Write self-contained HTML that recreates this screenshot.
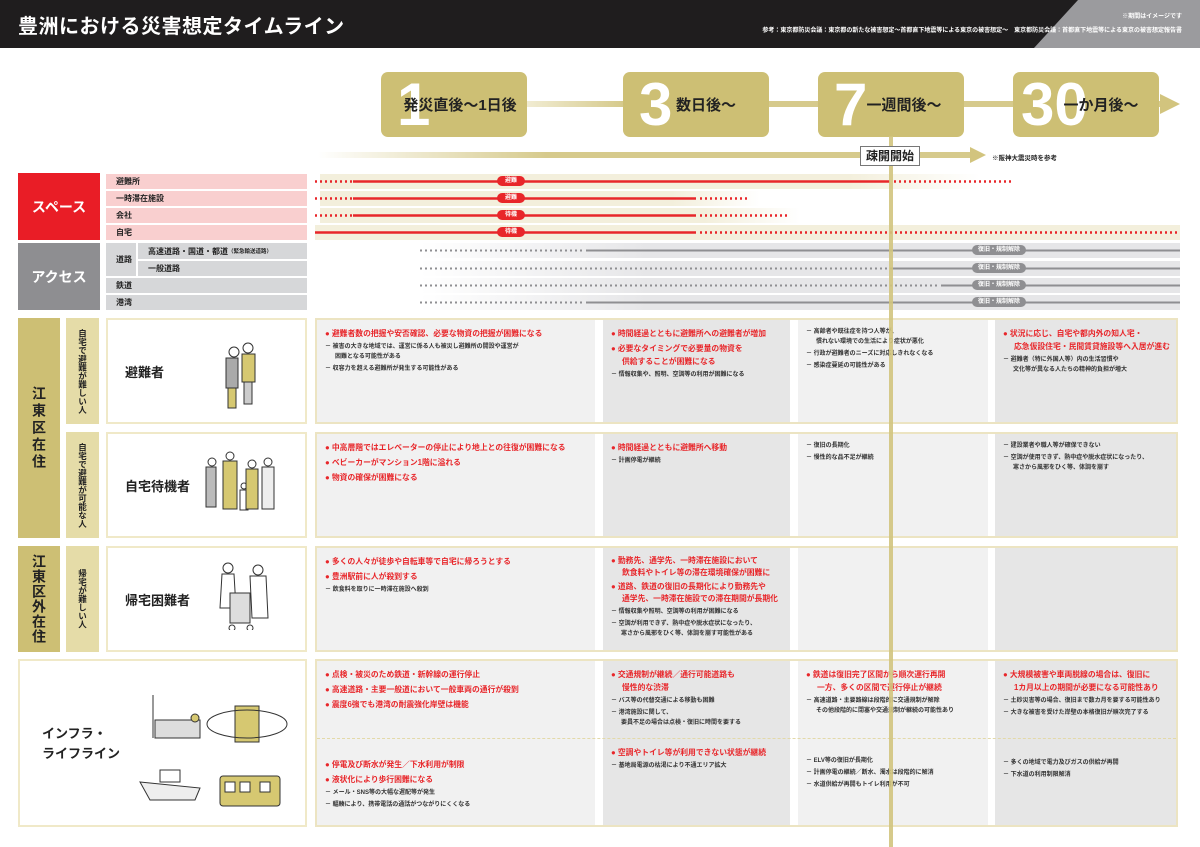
<!DOCTYPE html>
<html><head><meta charset="utf-8"><style>
*{margin:0;padding:0;box-sizing:border-box}
body{width:1200px;height:847px;position:relative;background:#fff;font-family:"Liberation Sans","Noto Sans CJK JP",sans-serif;overflow:hidden;color:#222}
.a{position:absolute}
.hdr{left:0;top:0;width:1200px;height:48px;background:#1f1d1e}
.tl{background:#cdbf74;border-radius:7px;height:65px;top:72px;width:146px}
.tl .n{position:absolute;left:16px;top:0px;font-size:60px;font-weight:bold;color:#fff;line-height:66px;font-family:"Liberation Sans",sans-serif}
.tl .t{position:absolute;left:12px;right:0;top:22px;font-size:15px;font-weight:bold;color:#222;text-align:center;white-space:nowrap}
.lab{font-size:8px;font-weight:bold;padding-left:10px;display:flex;align-items:center;height:15px}
.pk{background:#f9cfcf}.gy{background:#d6d7d9}
.pill{font-size:6px;color:#fff;font-weight:bold;border-radius:6px;text-align:center;line-height:10px;height:10px}
.cell{padding:7px 8px;}
.c1{background:#f1f1f1}.c2{background:#e6e6e6}
.r{color:#e8262a;font-size:7.8px;font-weight:bold;line-height:13px;margin-bottom:2px;padding-left:11px;text-indent:-11px;white-space:nowrap}
.b{color:#333;font-size:6px;font-weight:bold;line-height:10px;margin-bottom:2px;padding-left:10px;text-indent:-10px;white-space:nowrap}
.vt{writing-mode:vertical-rl;font-weight:bold;display:flex;align-items:center;justify-content:center}
.nm{background:#fff;border:2px solid #f0e9c8;font-size:13px;font-weight:bold}
</style></head><body>
<div class="a hdr"></div>
<svg class="a" style="left:0;top:0" width="1200" height="48"><polygon points="1078,0 1200,0 1200,48 1034,48" fill="#9b9b9e"/></svg>
<div class="a" style="left:18px;top:10px;color:#fff;font-size:20px;font-weight:bold;letter-spacing:0.5px">豊洲における災害想定タイムライン</div>
<div class="a" style="right:18px;top:11px;color:#fff;font-size:6px;font-weight:bold">※期間はイメージです</div>
<div class="a" style="right:18px;top:25px;color:#fff;font-size:6px;font-weight:bold;white-space:nowrap">参考：東京都防災会議：東京都の新たな被害想定～首都直下地震等による東京の被害想定～　東京都防災会議：首都直下地震等による東京の被害想定報告書</div>

<div class="a" style="left:527px;top:101px;width:640px;height:6px;background:linear-gradient(90deg,#f1ecd2,#d6ca8c 15%,#d6ca8c)"></div>
<svg class="a" style="left:1160px;top:94px" width="22" height="20"><polygon points="0,0 20,10 0,20" fill="#d2c47e"/></svg>
<div class="a" style="left:318px;top:152px;width:655px;height:6px;background:linear-gradient(90deg,#fff,#d6ca8c 35%,#d6ca8c)"></div>
<svg class="a" style="left:970px;top:147px" width="18" height="16"><polygon points="0,0 16,8 0,16" fill="#d2c47e"/></svg>
<div class="a" style="left:992px;top:152px;font-size:6.5px;font-weight:bold">※阪神大震災時を参考</div>
<div class="a" style="left:889px;top:136px;width:4px;height:711px;background:#d2c47e;opacity:.9;z-index:5"></div>
<div class="a" style="left:860px;top:146px;width:60px;height:20px;background:#fff;border:1px solid #777;font-size:12px;font-weight:bold;text-align:center;line-height:18px;z-index:6">疎開開始</div>

<div class="a tl" style="left:381px"><span class="n">1</span><span class="t">発災直後～1日後</span></div>
<div class="a tl" style="left:623px"><span class="n">3</span><span class="t" style="left:20px">数日後～</span></div>
<div class="a tl" style="left:818px"><span class="n">7</span><span class="t" style="left:26px">一週間後～</span></div>
<div class="a tl" style="left:1013px"><span class="n" style="left:8px">30</span><span class="t" style="left:30px">一か月後～</span></div>

<div class="a" style="left:18px;top:173px;width:82px;height:67px;background:#e91d26;color:#fff;font-size:14px;font-weight:bold;display:flex;align-items:center;justify-content:center">スペース</div>
<div class="a lab pk" style="left:106px;top:174px;width:201px">避難所</div>
<div class="a lab pk" style="left:106px;top:191px;width:201px">一時滞在施設</div>
<div class="a lab pk" style="left:106px;top:208px;width:201px">会社</div>
<div class="a lab pk" style="left:106px;top:225px;width:201px">自宅</div>
<div class="a" style="left:18px;top:243px;width:82px;height:67px;background:#8e8e91;color:#fff;font-size:14px;font-weight:bold;display:flex;align-items:center;justify-content:center">アクセス</div>
<div class="a lab gy" style="left:106px;top:243px;width:30px;height:33px">道路</div>
<div class="a lab gy" style="left:138px;top:243px;width:169px;height:16px">高速道路・国道・都道<span style="font-size:5.5px">（緊急輸送道路）</span></div>
<div class="a lab gy" style="left:138px;top:261px;width:169px;height:15px">一般道路</div>
<div class="a lab gy" style="left:106px;top:278px;width:201px">鉄道</div>
<div class="a lab gy" style="left:106px;top:295px;width:201px">港湾</div>

<svg class="a" style="left:0;top:0" width="1200" height="320">
<defs>
<linearGradient id="bf" x1="0" x2="1"><stop offset="0" stop-color="#f3efdc"/><stop offset=".8" stop-color="#f3efdc"/><stop offset="1" stop-color="#fff"/></linearGradient>
<linearGradient id="gf" x1="0" x2="1"><stop offset="0" stop-color="#fff"/><stop offset=".3" stop-color="#e6e6e8"/><stop offset="1" stop-color="#e6e6e8"/></linearGradient>
</defs>
<rect x="320" y="174" width="660" height="15" fill="url(#bf)"/>
<rect x="320" y="191" width="440" height="15" fill="url(#bf)"/>
<rect x="320" y="208" width="480" height="15" fill="url(#bf)"/>
<rect x="315" y="225" width="865" height="15" fill="#f3efdc"/>
<rect x="420" y="243" width="760" height="15" fill="url(#gf)"/>
<rect x="420" y="261" width="760" height="15" fill="url(#gf)"/>
<rect x="420" y="278" width="760" height="15" fill="url(#gf)"/>
<rect x="420" y="295" width="760" height="15" fill="url(#gf)"/>
<g stroke="#e8262a" stroke-width="2.5">
<line x1="315" y1="181.5" x2="352" y2="181.5" stroke-dasharray="2,3"/><line x1="353" y1="181.5" x2="890" y2="181.5"/><line x1="894" y1="181.5" x2="1012" y2="181.5" stroke-dasharray="2,3"/>
<line x1="315" y1="198.5" x2="352" y2="198.5" stroke-dasharray="2,3"/><line x1="353" y1="198.5" x2="696" y2="198.5"/><line x1="700" y1="198.5" x2="748" y2="198.5" stroke-dasharray="2,3"/>
<line x1="315" y1="215.5" x2="352" y2="215.5" stroke-dasharray="2,3"/><line x1="353" y1="215.5" x2="696" y2="215.5"/><line x1="700" y1="215.5" x2="790" y2="215.5" stroke-dasharray="2,3"/>
<line x1="315" y1="232.5" x2="696" y2="232.5"/><line x1="700" y1="232.5" x2="1180" y2="232.5" stroke-dasharray="2,3"/>
</g>
<g stroke="#8f8f92" stroke-width="2">
<line x1="420" y1="250.5" x2="585" y2="250.5" stroke-dasharray="2,3"/><line x1="586" y1="250.5" x2="1180" y2="250.5"/>
<line x1="420" y1="268.5" x2="888" y2="268.5" stroke-dasharray="2,3"/><line x1="890" y1="268.5" x2="1180" y2="268.5"/>
<line x1="420" y1="285.5" x2="940" y2="285.5" stroke-dasharray="2,3"/><line x1="941" y1="285.5" x2="1180" y2="285.5"/>
<line x1="420" y1="302.5" x2="585" y2="302.5" stroke-dasharray="2,3"/><line x1="586" y1="302.5" x2="1180" y2="302.5"/>
</g>
</svg>
<div class="a pill" style="left:497px;top:176px;width:28px;background:#e8262a">避難</div>
<div class="a pill" style="left:497px;top:193px;width:28px;background:#e8262a">避難</div>
<div class="a pill" style="left:497px;top:210px;width:28px;background:#e8262a">待機</div>
<div class="a pill" style="left:497px;top:227px;width:28px;background:#e8262a">待機</div>
<div class="a pill" style="left:972px;top:245px;width:54px;background:#8f8f92">復旧・規制解除</div>
<div class="a pill" style="left:972px;top:263px;width:54px;background:#8f8f92">復旧・規制解除</div>
<div class="a pill" style="left:972px;top:280px;width:54px;background:#8f8f92">復旧・規制解除</div>
<div class="a pill" style="left:972px;top:297px;width:54px;background:#8f8f92">復旧・規制解除</div>

<div class="a vt" style="left:18px;top:318px;width:42px;height:220px;background:#cdbf74;font-size:14px;letter-spacing:3px">江東区在住</div>
<div class="a vt" style="left:66px;top:318px;width:33px;height:106px;background:#e5dca8;font-size:8.5px">自宅で避難が難しい人</div>
<div class="a vt" style="left:66px;top:432px;width:33px;height:106px;background:#e5dca8;font-size:8.5px">自宅で避難が可能な人</div>
<div class="a vt" style="left:18px;top:546px;width:42px;height:106px;background:#cdbf74;font-size:14px;letter-spacing:1px">江東区外在住</div>
<div class="a vt" style="left:66px;top:546px;width:33px;height:106px;background:#e5dca8;font-size:8.5px">帰宅が難しい人</div>
<div class="a nm" style="left:106px;top:318px;width:201px;height:106px;padding:42px 0 0 17px">避難者</div>
<div class="a nm" style="left:106px;top:432px;width:201px;height:106px;padding:42px 0 0 17px">自宅待機者</div>
<div class="a nm" style="left:106px;top:546px;width:201px;height:106px;padding:42px 0 0 17px">帰宅困難者</div>
<div class="a nm" style="left:18px;top:659px;width:289px;height:168px;padding:63px 0 0 22px;line-height:20px">インフラ・<br>ライフライン</div>
<svg class="a" style="left:200px;top:330px" width="100" height="300">
<g stroke="#333" stroke-width="1" fill="none">
<circle cx="34" cy="22" r="5"/><rect x="26" y="28" width="12" height="30" fill="#aaa"/><rect x="28" y="58" width="8" height="20" fill="#d6c871"/>
<circle cx="48" cy="18" r="5"/><rect x="42" y="24" width="13" height="28" fill="#d6c871"/><rect x="44" y="52" width="8" height="22" fill="#ccc"/>
<g transform="translate(0,112)"><circle cx="12" cy="20" r="4"/><rect x="6" y="25" width="10" height="40" fill="#bbb"/><circle cx="30" cy="14" r="4"/><rect x="23" y="19" width="14" height="48" fill="#d6c871"/><circle cx="44" cy="44" r="3"/><rect x="40" y="48" width="8" height="20"/><circle cx="52" cy="22" r="4"/><rect x="46" y="27" width="12" height="40" fill="#d6c871"/><circle cx="68" cy="20" r="4"/><rect x="62" y="25" width="12" height="42" fill="#eee"/></g>
<g transform="translate(0,228)"><circle cx="28" cy="10" r="5"/><path d="M22 16 L34 16 L36 50 L20 50Z"/><circle cx="58" cy="12" r="5"/><path d="M50 18 L66 18 L68 60 L52 60Z"/><rect x="30" y="35" width="20" height="30" fill="#ddd"/><circle cx="32" cy="70" r="3"/><circle cx="50" cy="70" r="3"/></g>
</g></svg>
<svg class="a" style="left:135px;top:690px" width="160" height="130">
<g stroke="#333" stroke-width="1" fill="none">
<rect x="20" y="30" width="45" height="18" fill="#ddd"/><line x1="18" y1="5" x2="18" y2="48"/><circle cx="60" cy="28" r="4" fill="#d6c871"/>
<rect x="100" y="16" width="24" height="36" fill="#d6c871"/><ellipse cx="112" cy="34" rx="40" ry="14"/>
<path d="M5 92 L65 98 L60 110 L15 110Z" fill="#eee"/><rect x="25" y="80" width="20" height="12"/>
<rect x="85" y="86" width="60" height="30" rx="3" fill="#d6c871"/><rect x="90" y="92" width="10" height="10" fill="#fff"/><rect x="105" y="92" width="10" height="10" fill="#fff"/><rect x="125" y="92" width="10" height="10" fill="#fff"/>
</g></svg>

<div class="a" style="left:315px;top:318px;width:863px;height:106px;border:2px solid #ece4c2"></div>
<div class="a" style="left:315px;top:432px;width:863px;height:106px;border:2px solid #ece4c2"></div>
<div class="a" style="left:315px;top:546px;width:863px;height:106px;border:2px solid #ece4c2"></div>
<div class="a" style="left:315px;top:659px;width:863px;height:168px;border:2px solid #ece4c2"></div>

<div class="a cell c1" style="left:317px;top:320px;width:278px;height:102px">
<div class="r">● 避難者数の把握や安否確認、必要な物資の把握が困難になる</div>
<div class="b">－ 被害の大きな地域では、運営に係る人も被災し避難所の開設や運営が<br>困難となる可能性がある</div>
<div class="b">－ 収容力を超える避難所が発生する可能性がある</div></div>
<div class="a cell c2" style="left:603px;top:320px;width:187px;height:102px">
<div class="r">● 時間経過とともに避難所への避難者が増加</div>
<div class="r">● 必要なタイミングで必要量の物資を<br>供給することが困難になる</div>
<div class="b">－ 情報収集や、照明、空調等の利用が困難になる</div></div>
<div class="a cell c1" style="left:798px;top:320px;width:190px;height:102px">
<div class="b">－ 高齢者や既往症を持つ人等が、<br>慣れない環境での生活により症状が悪化</div>
<div class="b">－ 行政が避難者のニーズに対応しきれなくなる</div>
<div class="b">－ 感染症蔓延の可能性がある</div></div>
<div class="a cell c2" style="left:995px;top:320px;width:181px;height:102px">
<div class="r">● 状況に応じ、自宅や都内外の知人宅・<br>応急仮設住宅・民間賃貸施設等へ入居が進む</div>
<div class="b">－ 避難者（特に外国人等）内の生活習慣や<br>文化等が異なる人たちの精神的負担が増大</div></div>
<div class="a cell c1" style="left:317px;top:434px;width:278px;height:102px">
<div class="r">● 中高層階ではエレベーターの停止により地上との往復が困難になる</div>
<div class="r">● ベビーカーがマンション1階に溢れる</div>
<div class="r">● 物資の確保が困難になる</div></div>
<div class="a cell c2" style="left:603px;top:434px;width:187px;height:102px">
<div class="r">● 時間経過とともに避難所へ移動</div>
<div class="b">－ 計画停電が継続</div></div>
<div class="a cell c1" style="left:798px;top:434px;width:190px;height:102px">
<div class="b">－ 復旧の長期化</div>
<div class="b">－ 慢性的な品不足が継続</div></div>
<div class="a cell c2" style="left:995px;top:434px;width:181px;height:102px">
<div class="b">－ 建設業者や職人等が確保できない</div>
<div class="b">－ 空調が使用できず、熱中症や脱水症状になったり、<br>寒さから風邪をひく等、体調を崩す</div></div>
<div class="a cell c1" style="left:317px;top:548px;width:278px;height:102px">
<div class="r">● 多くの人々が徒歩や自転車等で自宅に帰ろうとする</div>
<div class="r">● 豊洲駅前に人が殺到する</div>
<div class="b">－ 飲食料を取りに一時滞在施設へ殺到</div></div>
<div class="a cell c2" style="left:603px;top:548px;width:187px;height:102px">
<div class="r" style="line-height:12px">● 勤務先、通学先、一時滞在施設において<br>飲食料やトイレ等の滞在環境確保が困難に</div>
<div class="r" style="line-height:12px">● 道路、鉄道の復旧の長期化により勤務先や<br>通学先、一時滞在施設での滞在期間が長期化</div>
<div class="b">－ 情報収集や照明、空調等の利用が困難になる</div>
<div class="b">－ 空調が利用できず、熱中症や脱水症状になったり、<br>寒さから風邪をひく等、体調を崩す可能性がある</div></div>
<div class="a cell c1" style="left:798px;top:548px;width:190px;height:102px"></div>
<div class="a cell c2" style="left:995px;top:548px;width:181px;height:102px"></div>
<div class="a cell c1" style="left:317px;top:661px;width:278px;height:164px">
<div class="r">● 点検・被災のため鉄道・新幹線の運行停止</div>
<div class="r">● 高速道路・主要一般道において一般車両の通行が殺到</div>
<div class="r">● 震度6強でも港湾の耐震強化岸壁は機能</div>
<div class="r" style="margin-top:47px">● 停電及び断水が発生／下水利用が制限</div>
<div class="r">● 液状化により歩行困難になる</div>
<div class="b">－ メール・SNS等の大幅な遅配等が発生</div>
<div class="b">－ 輻輳により、携帯電話の通話がつながりにくくなる</div></div>
<div class="a cell c2" style="left:603px;top:661px;width:187px;height:164px">
<div class="r">● 交通規制が継続／通行可能道路も<br>慢性的な渋滞</div>
<div class="b">－ バス等の代替交通による移動も困難</div>
<div class="b">－ 港湾施設に関して、<br>要員不足の場合は点検・復旧に時間を要する</div>
<div class="r" style="margin-top:18px">● 空調やトイレ等が利用できない状態が継続</div>
<div class="b">－ 基地局電源の枯渇により不通エリア拡大</div></div>
<div class="a cell c1" style="left:798px;top:661px;width:190px;height:164px">
<div class="r">● 鉄道は復旧完了区間から順次運行再開<br>一方、多くの区間で運行停止が継続</div>
<div class="b">－ 高速道路・主要路線は段階的に交通規制が解除<br>その他段階的に閉塞や交通規制が継続の可能性あり</div>
<div class="b" style="margin-top:40px">－ ELV等の復旧が長期化</div>
<div class="b">－ 計画停電の継続／断水、濁水は段階的に解消</div>
<div class="b">－ 水道供給が再開もトイレ利用が不可</div></div>
<div class="a cell c2" style="left:995px;top:661px;width:181px;height:164px">
<div class="r">● 大規模被害や車両脱線の場合は、復旧に<br>1カ月以上の期間が必要になる可能性あり</div>
<div class="b">－ 土砂災害等の場合、復旧まで数カ月を要する可能性あり</div>
<div class="b">－ 大きな被害を受けた岸壁の本格復旧が順次完了する</div>
<div class="b" style="margin-top:40px">－ 多くの地域で電力及びガスの供給が再開</div>
<div class="b">－ 下水道の利用制限解消</div></div>
<div class="a" style="left:317px;top:738px;width:859px;border-top:1px dashed #e3d9a8"></div>
</body></html>
